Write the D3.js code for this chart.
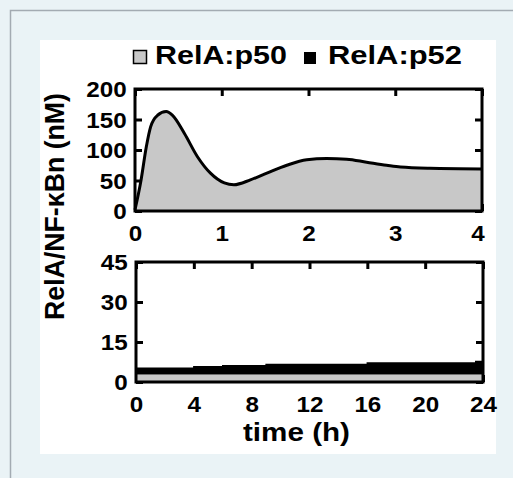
<!DOCTYPE html>
<html>
<head>
<meta charset="utf-8">
<script src="https://cdn.jsdelivr.net/npm/d3@7"></script>
<style>
  body { margin: 0; background: #eaf3f6; }
  text { font-family: "Liberation Sans", Arial, sans-serif; font-weight: bold; fill: #000; }
</style>
</head>
<body>
<script>
// top panel: RelA:p50 over the first 4 hours
var hoursTop = [0, 0.07, 0.13, 0.18, 0.26, 0.36, 0.43, 0.57, 0.72, 0.87, 1.03, 1.14, 1.33, 1.52, 1.75, 1.98, 2.21, 2.44, 2.67, 2.9, 3.06, 3.4, 4.0];
var p50Top   = [2, 51, 105, 138, 157, 163, 157, 127, 89, 62, 46, 43, 51, 62, 75, 84, 86, 85, 80, 75, 72, 70, 69];

// bottom panel: 24 h, stacked dimers
var hoursBottom = [0, 4, 6, 9, 16, 23.5, 24];
var p50Bottom   = [3.2, 3.2, 3.2, 3.2, 3.2, 3.2, 3.2];
var p52Bottom   = [2.0, 2.5, 2.9, 3.4, 3.9, 4.5, 4.5];

var topXTicks = [0, 1, 2, 3, 4];
var topYTicks = [0, 50, 100, 150, 200];
var bottomXTicks = [0, 4, 8, 12, 16, 20, 24];
var bottomYTicks = [0, 15, 30, 45];

var width = 513, height = 478;
var sx = 1.1; // the figure text is a bit stretched sideways

var svg = d3.select("body").append("svg")
  .attr("width", width)
  .attr("height", height);

svg.append("rect").attr("width", width).attr("height", height).attr("fill", "#eaf3f6");
svg.append("path")
  .attr("d", "M10.5," + height + "V10.5H" + width)
  .attr("fill", "none").attr("stroke", "#a3abb2").attr("stroke-width", 1.5);
svg.append("rect").attr("x", 40).attr("y", 40).attr("width", 456).attr("height", 414).attr("fill", "#fff");

var xTop = d3.scaleLinear().domain([0, 4]).range([135, 482]);
var yTop = d3.scaleLinear().domain([0, 200]).range([211, 89]);
var xBot = d3.scaleLinear().domain([0, 24]).range([136, 483]);
var yBot = d3.scaleLinear().domain([0, 45]).range([382, 262]);

function panelTicks(x, y, xt, yt) {
  var g = svg.append("g");
  var t = 7;
  // inward ticks on all four sides
  [d3.axisTop(x).tickValues(xt).tickSize(-t).tickFormat(""),
   d3.axisBottom(x).tickValues(xt).tickSize(-t).tickFormat("")].forEach(function(ax, i) {
    g.append("g").attr("transform", "translate(0," + (i ? y.range()[0] : y.range()[1]) + ")").call(ax);
  });
  [d3.axisLeft(y).tickValues(yt).tickSize(-t).tickFormat(""),
   d3.axisRight(y).tickValues(yt).tickSize(-t).tickFormat("")].forEach(function(ax, i) {
    g.append("g").attr("transform", "translate(" + (i ? x.range()[1] : x.range()[0]) + ",0)").call(ax);
  });
  g.selectAll(".domain").remove();
  g.selectAll("line").attr("stroke", "#000").attr("stroke-width", 3);
}

function panelLabels(x, y, xt, yt) {
  var gx = svg.append("g")
    .attr("transform", "translate(0," + (y.range()[0] + 4) + ")")
    .call(d3.axisBottom(x).tickValues(xt).tickSize(0).tickPadding(10).tickFormat(d3.format("d")));
  var gy = svg.append("g")
    .attr("transform", "translate(" + (x.range()[0] - 5) + ",0)")
    .call(d3.axisLeft(y).tickValues(yt).tickSize(0).tickPadding(3).tickFormat(d3.format("d")));
  [gx, gy].forEach(function(g) {
    g.select(".domain").remove();
    g.selectAll("text")
      .attr("font-size", 22)
      .attr("font-family", null)
      .attr("transform", "scale(" + sx + ",1)");
  });
  gy.selectAll("text").attr("dy", "0.36em");
  return gx;
}

function frame(x, y) {
  svg.append("rect")
    .attr("x", x.range()[0]).attr("y", y.range()[1])
    .attr("width", x.range()[1] - x.range()[0])
    .attr("height", y.range()[0] - y.range()[1])
    .attr("fill", "none").attr("stroke", "#000").attr("stroke-width", 3);
}

// top panel
panelTicks(xTop, yTop, topXTicks, topYTicks);
var topData = hoursTop.map(function(h, i) { return {h: h, v: p50Top[i]}; });
svg.append("path").datum(topData)
  .attr("fill", "#c8c8c8")
  .attr("d", d3.area().curve(d3.curveMonotoneX)
    .x(function(d) { return xTop(d.h); })
    .y0(yTop(0))
    .y1(function(d) { return yTop(d.v); }));
svg.append("path").datum(topData)
  .attr("fill", "none").attr("stroke", "#000").attr("stroke-width", 3)
  .attr("d", d3.line().curve(d3.curveMonotoneX)
    .x(function(d) { return xTop(d.h); })
    .y(function(d) { return yTop(d.v); }));
frame(xTop, yTop);
var gxTop = panelLabels(xTop, yTop, topXTicks, topYTicks);
// last label of the top panel sits inside the frame
gxTop.selectAll("text").filter(function(d) { return d === 4; }).attr("text-anchor", "end").attr("x", 2);

// bottom panel
panelTicks(xBot, yBot, bottomXTicks, bottomYTicks);
var botData = hoursBottom.map(function(h, i) { return {h: h, p50: p50Bottom[i], p52: p52Bottom[i]}; });
var stacked = d3.stack().keys(["p50", "p52"])(botData);
var fills = ["#c8c8c8", "#000"];
svg.selectAll(".layer").data(stacked).enter().append("path")
  .attr("class", "layer")
  .attr("fill", function(d, i) { return fills[i]; })
  .attr("stroke", "#000").attr("stroke-width", 1.5)
  .attr("d", d3.area().curve(d3.curveStepAfter)
    .x(function(d) { return xBot(d.data.h); })
    .y0(function(d) { return yBot(d[0]); })
    .y1(function(d) { return yBot(d[1]); }));
frame(xBot, yBot);
panelLabels(xBot, yBot, bottomXTicks, bottomYTicks);

// axis titles
svg.append("text")
  .attr("x", 243).attr("y", 441)
  .attr("font-size", 26)
  .attr("textLength", 107).attr("lengthAdjust", "spacingAndGlyphs")
  .text("time (h)");
svg.append("text")
  .attr("transform", "translate(64,320) rotate(-90)")
  .attr("font-size", 27)
  .attr("textLength", 227).attr("lengthAdjust", "spacingAndGlyphs")
  .text("RelA/NF-κBn (nM)");

// legend
var legendNames = ["RelA:p50", "RelA:p52"];
var legend = svg.append("g");
legend.append("rect").attr("x", 133.5).attr("y", 50.5).attr("width", 13).attr("height", 13)
  .attr("fill", "#c8c8c8").attr("stroke", "#000").attr("stroke-width", 1.5);
legend.append("rect").attr("x", 304).attr("y", 52).attr("width", 12).attr("height", 12)
  .attr("fill", "#000");
legend.selectAll("text.name").data(legendNames).enter().append("text")
  .attr("class", "name")
  .attr("x", function(d, i) { return i ? 328 : 155; })
  .attr("y", 64)
  .attr("font-size", 25)
  .attr("textLength", function(d, i) { return i ? 134 : 132; })
  .attr("lengthAdjust", "spacingAndGlyphs")
  .text(function(d) { return d; });
</script>
</body>
</html>
